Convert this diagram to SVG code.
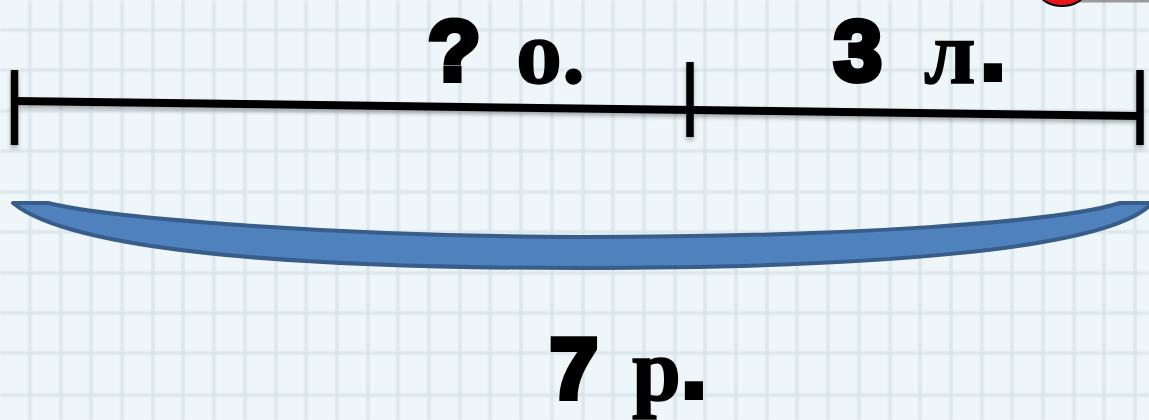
<svg xmlns="http://www.w3.org/2000/svg" width="1149" height="420" viewBox="0 0 1149 420">
<defs>
<style>
.grid line{stroke:#d3e1e5;stroke-width:2.5}
.bar{stroke:#000;stroke-width:8;fill:none}
.tick{stroke:#000;stroke-width:7.5;fill:none}
.heavy{font-family:"Liberation Sans",Arial,sans-serif;font-weight:bold;fill:#000;stroke:#000;stroke-width:6;stroke-linejoin:miter}
.serif{font-family:"Liberation Serif","Times New Roman",serif;font-weight:bold;fill:#000;stroke:#000;stroke-width:1.5}
</style>
<filter id="sh" x="-5%" y="-50%" width="110%" height="200%">
<feDropShadow dx="0" dy="3" stdDeviation="2" flood-color="#000" flood-opacity="0.3"/>
</filter>
<filter id="blur"><feGaussianBlur stdDeviation="1"/></filter>
</defs>
<rect width="1149" height="420" fill="#eff6f9"/>
<g class="grid" filter="url(#blur)">
<line x1="30" y1="0" x2="30" y2="420"/><line x1="61" y1="0" x2="61" y2="420"/><line x1="91" y1="0" x2="91" y2="420"/><line x1="122" y1="0" x2="122" y2="420"/><line x1="153" y1="0" x2="153" y2="420"/><line x1="183" y1="0" x2="183" y2="420"/><line x1="214" y1="0" x2="214" y2="420"/><line x1="245" y1="0" x2="245" y2="420"/><line x1="276" y1="0" x2="276" y2="420"/><line x1="306" y1="0" x2="306" y2="420"/><line x1="337" y1="0" x2="337" y2="420"/><line x1="368" y1="0" x2="368" y2="420"/><line x1="398" y1="0" x2="398" y2="420"/><line x1="429" y1="0" x2="429" y2="420"/><line x1="460" y1="0" x2="460" y2="420"/><line x1="490" y1="0" x2="490" y2="420"/><line x1="521" y1="0" x2="521" y2="420"/><line x1="552" y1="0" x2="552" y2="420"/><line x1="583" y1="0" x2="583" y2="420"/><line x1="613" y1="0" x2="613" y2="420"/><line x1="644" y1="0" x2="644" y2="420"/><line x1="675" y1="0" x2="675" y2="420"/><line x1="705" y1="0" x2="705" y2="420"/><line x1="736" y1="0" x2="736" y2="420"/><line x1="767" y1="0" x2="767" y2="420"/><line x1="797" y1="0" x2="797" y2="420"/><line x1="828" y1="0" x2="828" y2="420"/><line x1="859" y1="0" x2="859" y2="420"/><line x1="890" y1="0" x2="890" y2="420"/><line x1="920" y1="0" x2="920" y2="420"/><line x1="951" y1="0" x2="951" y2="420"/><line x1="982" y1="0" x2="982" y2="420"/><line x1="1012" y1="0" x2="1012" y2="420"/><line x1="1043" y1="0" x2="1043" y2="420"/><line x1="1074" y1="0" x2="1074" y2="420"/><line x1="1104" y1="0" x2="1104" y2="420"/><line x1="1135" y1="0" x2="1135" y2="420"/>
<line x1="0" y1="30" x2="1149" y2="30"/><line x1="0" y1="70" x2="1149" y2="70"/><line x1="0" y1="111" x2="1149" y2="111"/><line x1="0" y1="151" x2="1149" y2="151"/><line x1="0" y1="192" x2="1149" y2="192"/><line x1="0" y1="232" x2="1149" y2="232"/><line x1="0" y1="273" x2="1149" y2="273"/><line x1="0" y1="313" x2="1149" y2="313"/><line x1="0" y1="353" x2="1149" y2="353"/><line x1="0" y1="395" x2="1149" y2="395"/>
</g>
<g id="corner-button">
<rect x="1072" y="0" width="77" height="2.5" fill="#9a9a9a"/>
<ellipse cx="1062" cy="-7" rx="22" ry="13" fill="#e8141b" stroke="#000" stroke-width="2"/>
</g>
<g id="connectors" filter="url(#sh)">
<line class="bar" x1="15" y1="101" x2="1140" y2="116"/>
<line class="tick" x1="14.5" y1="70" x2="14.5" y2="145"/>
<line class="tick" x1="690" y1="62" x2="690" y2="137"/>
<line class="tick" x1="1140" y1="70" x2="1140" y2="145"/>
</g>
<g id="brace">
<path d="M13,203 L48,203 C110,218 330,236 580,237 C850,237 1060,222 1120,203 L1152,203 C1110,250 870,268 580,268 C290,268 70,250 13,203 Z" fill="#4f81bd" stroke="#385d8a" stroke-width="4" stroke-linejoin="round"/>
</g>
<g id="label-unknown">
<text class="heavy" x="428" y="80" font-size="86">?</text>
<text class="serif" x="516" y="83" font-size="92">о.</text>
</g>
<g id="label-3">
<text class="heavy" x="834" y="80" font-size="86">3</text>
<text class="serif" x="924" y="83" font-size="92">л</text>
<text class="heavy" x="981" y="79" font-size="86">.</text>
</g>
<g id="label-7">
<text class="heavy" x="550" y="398" font-size="86">7</text>
<text class="serif" x="632" y="400" font-size="88">р</text>
<text class="heavy" x="682" y="397" font-size="86">.</text>
</g>
</svg>
